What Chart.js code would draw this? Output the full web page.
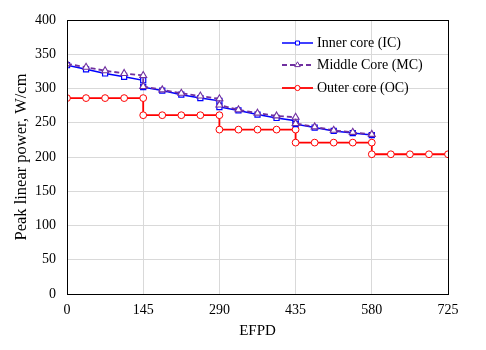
<!DOCTYPE html>
<html>
<head>
<meta charset="utf-8">
<script src="https://cdn.jsdelivr.net/npm/chart.js@4"></script>
<style>
  html, body { margin: 0; padding: 0; background: #fff; }
  #wrap { width: 486px; height: 350px; }
</style>
</head>
<body>
<div id="wrap"><canvas id="myChart" width="486" height="350"></canvas></div>
<script>
// EFPD positions (each 145-day cycle has 5 points, the step repeats the boundary)
const efpd = [0, 36.25, 72.5, 108.75, 145,
              145, 181.25, 217.5, 253.75, 290,
              290, 326.25, 362.5, 398.75, 435,
              435, 471.25, 507.5, 543.75, 580];
const efpdOC = efpd.concat([580, 616.25, 652.5, 688.75, 725]);

// Peak linear power, W/cm
const innerCore = [334, 328, 322, 317, 312,
                   302, 297, 291, 286, 282,
                   273, 268, 262, 257, 253,
                   248, 243, 238, 235, 232];
const middleCore = [336, 331, 326, 322, 319,
                    303, 298, 293, 289, 285,
                    276, 269, 264, 260, 258,
                    249, 244, 239, 236, 233];
const outerCore = [286, 286, 286, 286, 286,
                   261, 261, 261, 261, 261,
                   240, 240, 240, 240, 240,
                   221, 221, 221, 221, 221,
                   204, 204, 204, 204, 204];

const xTicks = [0, 145, 290, 435, 580, 725];
const seriesNames = ["Inner core (IC)", "Middle Core (MC)", "Outer core (OC)"];

const serif = "'Liberation Serif', 'Times New Roman', serif";

function toPoints(xs, ys) {
  return ys.map((y, i) => ({ x: xs[i], y: y }));
}

// Frame around the plot area
const framePlugin = {
  id: "frame",
  afterDraw(chart) {
    const a = chart.chartArea;
    const ctx = chart.ctx;
    ctx.save();
    ctx.strokeStyle = "#000";
    ctx.lineWidth = 1;
    ctx.strokeRect(Math.round(a.left) + 0.5, Math.round(a.top) + 0.5,
                   Math.round(a.right - a.left), Math.round(a.bottom - a.top));
    ctx.restore();
  }
};

// Legend drawn inside the plot area, top right
const innerLegend = {
  id: "innerLegend",
  afterDraw(chart) {
    const ctx = chart.ctx;
    const x0 = 282, x1 = 313, tx = 317;
    const rows = [43, 65, 88];
    ctx.save();
    chart.data.datasets.forEach((ds, i) => {
      const y = rows[i];
      ctx.strokeStyle = ds.borderColor;
      ctx.lineWidth = ds.borderWidth;
      ctx.setLineDash(ds.borderDash || []);
      ctx.beginPath();
      ctx.moveTo(x0, y);
      ctx.lineTo(x1, y);
      ctx.stroke();
      ctx.setLineDash([]);
      ctx.fillStyle = "#fff";
      ctx.strokeStyle = ds.pointBorderColor;
      ctx.lineWidth = 1;
      Chart.helpers.drawPoint(ctx, {
        pointStyle: ds.pointStyle,
        radius: ds.pointRadius - 0.8,
        borderWidth: 1,
        rotation: 0
      }, (x0 + x1) / 2, y);
      ctx.fillStyle = "#000";
      ctx.font = "14px " + serif;
      ctx.textAlign = "left";
      ctx.textBaseline = "middle";
      ctx.fillText(seriesNames[i], tx, y);
    });
    ctx.restore();
  }
};

new Chart(document.getElementById("myChart"), {
  type: "line",
  data: {
    datasets: [{
      label: seriesNames[0],
      data: toPoints(efpd, innerCore),
      borderColor: "#0000ff",
      borderWidth: 1.5,
      pointStyle: "rect",
      pointRadius: 3.6,
      pointBorderWidth: 1.2,
      pointBorderColor: "#0000ff",
      pointBackgroundColor: "#fff",
      order: 1
    }, {
      label: seriesNames[1],
      data: toPoints(efpd, middleCore),
      borderColor: "#7030a0",
      borderWidth: 1.8,
      borderDash: [5, 3],
      pointStyle: "triangle",
      pointRadius: 4,
      pointBorderWidth: 1.1,
      pointBorderColor: "#7030a0",
      pointBackgroundColor: "#fff",
      order: 0
    }, {
      label: seriesNames[2],
      data: toPoints(efpdOC, outerCore),
      borderColor: "#ff0000",
      borderWidth: 1.8,
      pointStyle: "circle",
      pointRadius: 3.4,
      pointBorderWidth: 1,
      pointBorderColor: "#ff0000",
      pointBackgroundColor: "#fff",
      order: 2
    }]
  },
  options: {
    responsive: false,
    animation: false,
    layout: { padding: { left: 12, right: 38, top: 20, bottom: 6 } },
    plugins: {
      legend: { display: false },
      tooltip: { enabled: false }
    },
    elements: { line: { tension: 0 } },
    scales: {
      x: {
        type: "linear",
        min: 0,
        max: 725,
        afterBuildTicks(scale) {
          scale.ticks = xTicks.map(v => ({ value: v }));
        },
        afterFit(scale) { scale.height = 50; },
        grid: { color: "#d9d9d9", drawTicks: false },
        border: { display: false },
        ticks: { color: "#000", padding: 8, font: { family: serif, size: 14 } },
        title: {
          display: true,
          text: "EFPD",
          color: "#000",
          padding: { top: 5 },
          font: { family: serif, size: 15 }
        }
      },
      y: {
        min: 0,
        max: 400,
        afterFit(scale) { scale.width = 55; },
        grid: { color: "#d9d9d9", drawTicks: false },
        border: { display: false },
        ticks: { stepSize: 50, color: "#000", padding: 11, font: { family: serif, size: 14 } },
        title: {
          display: true,
          text: "Peak linear power, W/cm",
          color: "#000",
          padding: 0,
          font: { family: serif, size: 16.5 }
        }
      }
    }
  },
  plugins: [framePlugin, innerLegend]
});
</script>
</body>
</html>
